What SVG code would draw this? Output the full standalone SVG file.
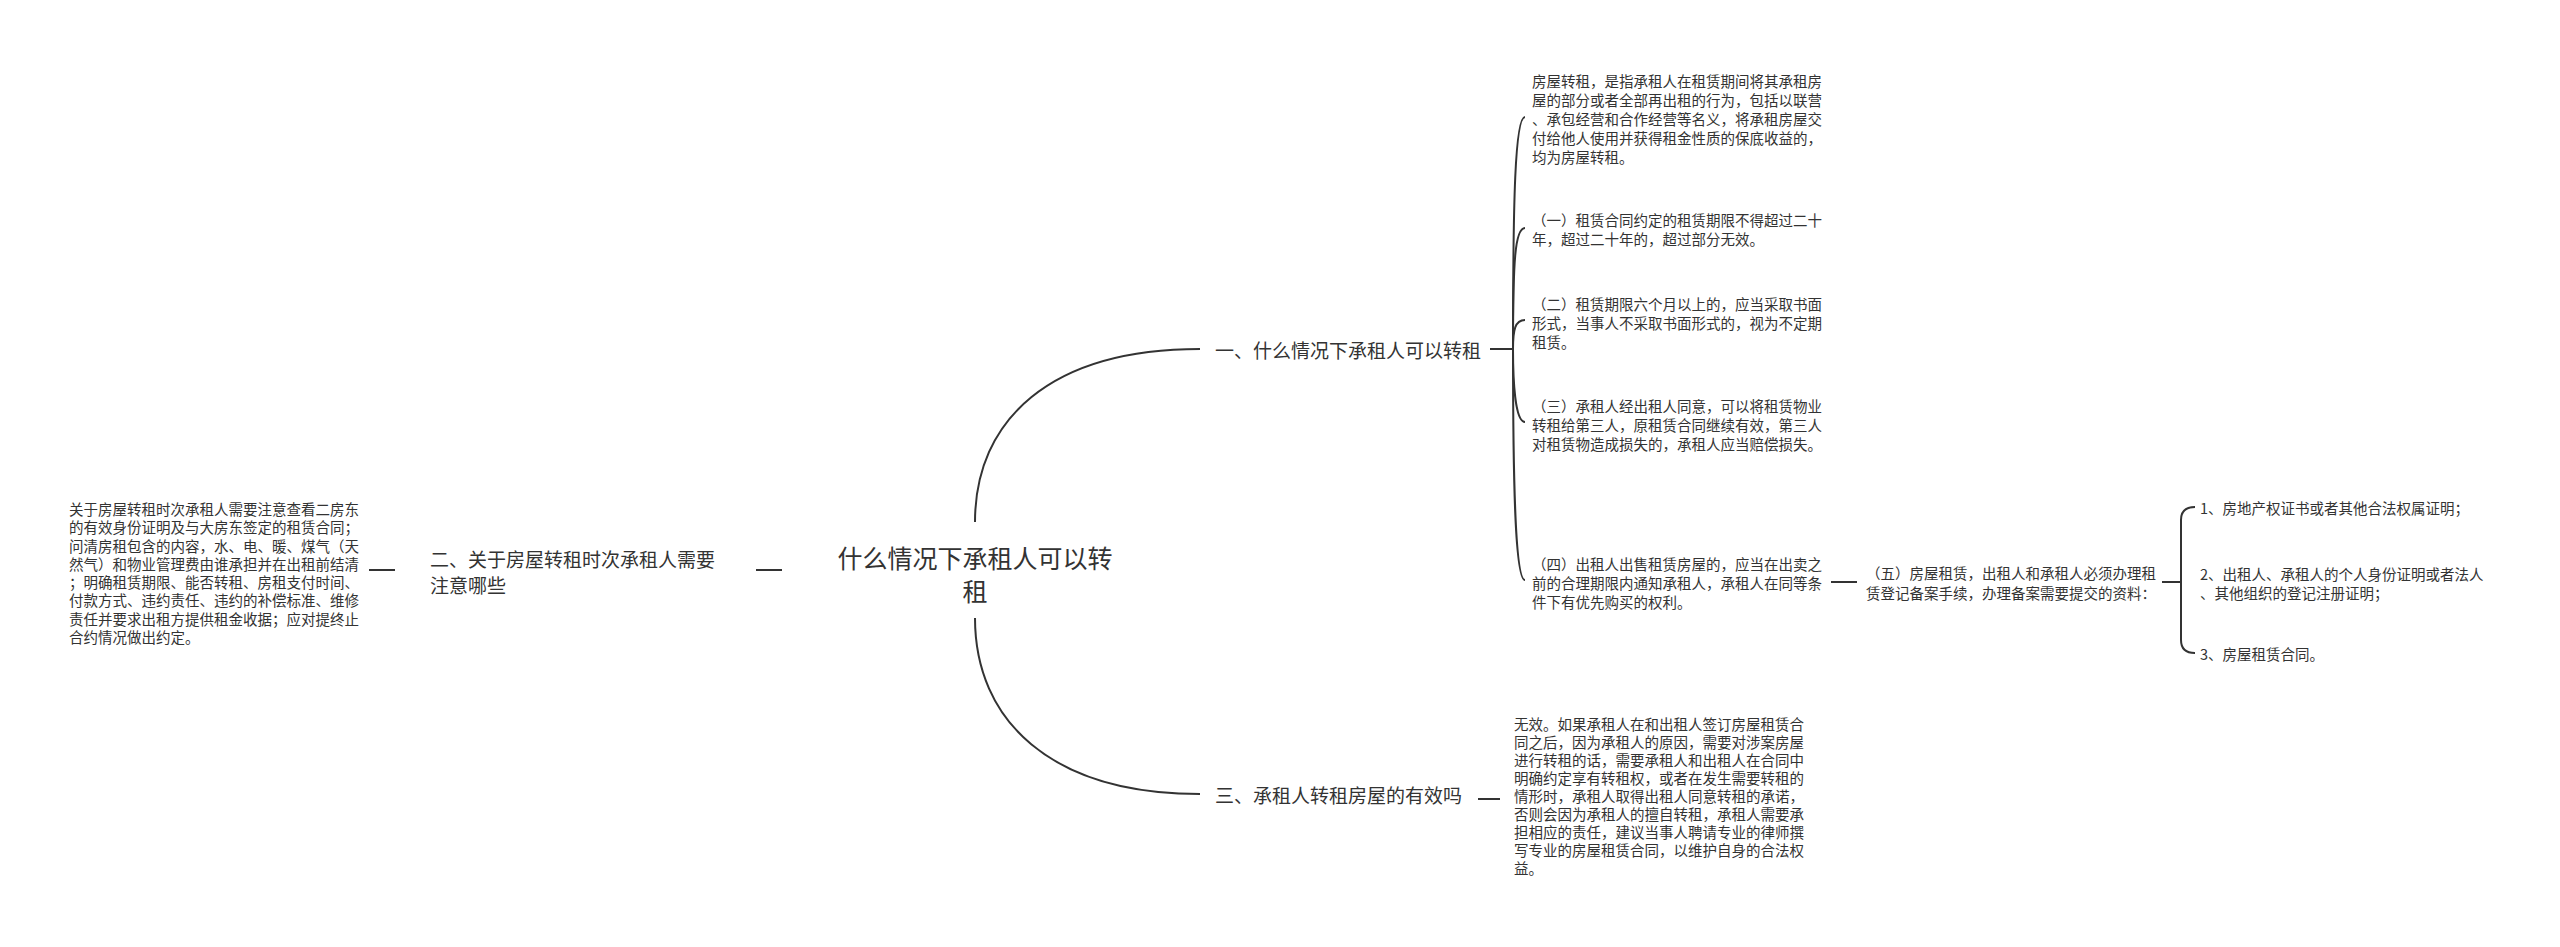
<svg xmlns="http://www.w3.org/2000/svg" width="2560" height="947" viewBox="0 0 2560 947">
<style>
text{font-family:"Noto Sans CJK SC","Liberation Sans",sans-serif;fill:#333;dominant-baseline:central}
.s{font-size:14.5px}
.b{font-size:19px}
.r{font-size:25px}
.c{fill:none;stroke:#333;stroke-width:2}
</style>
<rect width="2560" height="947" fill="#fff"/>
<g id="connectors" class="c">
<path d="M975 522 C975 420 1050 349 1200 349"/>
<path d="M975 618 C975 720 1050 794 1200 794"/>
<path d="M756 570 H782"/>
<path d="M369 570 H395"/>
<path d="M1490 349 H1513"/>
<path d="M1513 349 C1513 200 1515 117 1525 117"/>
<path d="M1513 349 C1513 260 1515 228 1525 228"/>
<path d="M1513 349 C1513 330 1515 320 1525 320"/>
<path d="M1513 349 C1513 380 1515 422 1525 422"/>
<path d="M1513 349 C1513 480 1515 580 1525 580"/>
<path d="M1831 582 H1857"/>
<path d="M2162 582 H2181"/>
<path d="M2195 507 Q2181 507 2181 520 V640 Q2181 653 2195 653"/>
<path d="M1478 799 H1500"/>
</g>
<g id="root"><text class="r" x="975" y="557" text-anchor="middle">什么情况下承租人可以转</text><text class="r" x="975" y="590" text-anchor="middle">租</text></g>
<g id="b1"><text class="b" x="1215" y="349">一、什么情况下承租人可以转租</text></g>
<g id="b2"><text class="b" x="430" y="558">二、关于房屋转租时次承租人需要</text><text class="b" x="430" y="584">注意哪些</text></g>
<g id="b3"><text class="b" x="1215" y="794">三、承租人转租房屋的有效吗</text></g>
<g id="left" class="s">
<text x="69" y="508">关于房屋转租时次承租人需要注意查看二房东</text>
<text x="69" y="526">的有效身份证明及与大房东签定的租赁合同；</text>
<text x="69" y="545">问清房租包含的内容，水、电、暖、煤气（天</text>
<text x="69" y="563">然气）和物业管理费由谁承担并在出租前结清</text>
<text x="69" y="581">；明确租赁期限、能否转租、房租支付时间、</text>
<text x="69" y="599">付款方式、违约责任、违约的补偿标准、维修</text>
<text x="69" y="618">责任并要求出租方提供租金收据；应对提终止</text>
<text x="69" y="636">合约情况做出约定。</text>
</g>
<g id="n0" class="s">
<text x="1532" y="80">房屋转租，是指承租人在租赁期间将其承租房</text>
<text x="1532" y="99">屋的部分或者全部再出租的行为，包括以联营</text>
<text x="1532" y="118">、承包经营和合作经营等名义，将承租房屋交</text>
<text x="1532" y="137">付给他人使用并获得租金性质的保底收益的，</text>
<text x="1532" y="156">均为房屋转租。</text>
</g>
<g id="n1" class="s">
<text x="1532" y="219">（一）租赁合同约定的租赁期限不得超过二十</text>
<text x="1532" y="238">年，超过二十年的，超过部分无效。</text>
</g>
<g id="n2" class="s">
<text x="1532" y="303">（二）租赁期限六个月以上的，应当采取书面</text>
<text x="1532" y="322">形式，当事人不采取书面形式的，视为不定期</text>
<text x="1532" y="341">租赁。</text>
</g>
<g id="n3" class="s">
<text x="1532" y="405">（三）承租人经出租人同意，可以将租赁物业</text>
<text x="1532" y="424">转租给第三人，原租赁合同继续有效，第三人</text>
<text x="1532" y="443">对租赁物造成损失的，承租人应当赔偿损失。</text>
</g>
<g id="n4" class="s">
<text x="1532" y="563">（四）出租人出售租赁房屋的，应当在出卖之</text>
<text x="1532" y="582">前的合理期限内通知承租人，承租人在同等条</text>
<text x="1532" y="601">件下有优先购买的权利。</text>
</g>
<g id="n5" class="s">
<text x="1866" y="572">（五）房屋租赁，出租人和承租人必须办理租</text>
<text x="1866" y="592">赁登记备案手续，办理备案需要提交的资料：</text>
</g>
<g id="n51" class="s"><text x="2200" y="507">1、房地产权证书或者其他合法权属证明；</text></g>
<g id="n52" class="s"><text x="2200" y="573">2、出租人、承租人的个人身份证明或者法人</text><text x="2200" y="592">、其他组织的登记注册证明；</text></g>
<g id="n53" class="s"><text x="2200" y="653">3、房屋租赁合同。</text></g>
<g id="n6" class="s">
<text x="1514" y="723">无效。如果承租人在和出租人签订房屋租赁合</text>
<text x="1514" y="741">同之后，因为承租人的原因，需要对涉案房屋</text>
<text x="1514" y="759">进行转租的话，需要承租人和出租人在合同中</text>
<text x="1514" y="777">明确约定享有转租权，或者在发生需要转租的</text>
<text x="1514" y="795">情形时，承租人取得出租人同意转租的承诺，</text>
<text x="1514" y="813">否则会因为承租人的擅自转租，承租人需要承</text>
<text x="1514" y="831">担相应的责任，建议当事人聘请专业的律师撰</text>
<text x="1514" y="849">写专业的房屋租赁合同，以维护自身的合法权</text>
<text x="1514" y="867">益。</text>
</g>
</svg>
